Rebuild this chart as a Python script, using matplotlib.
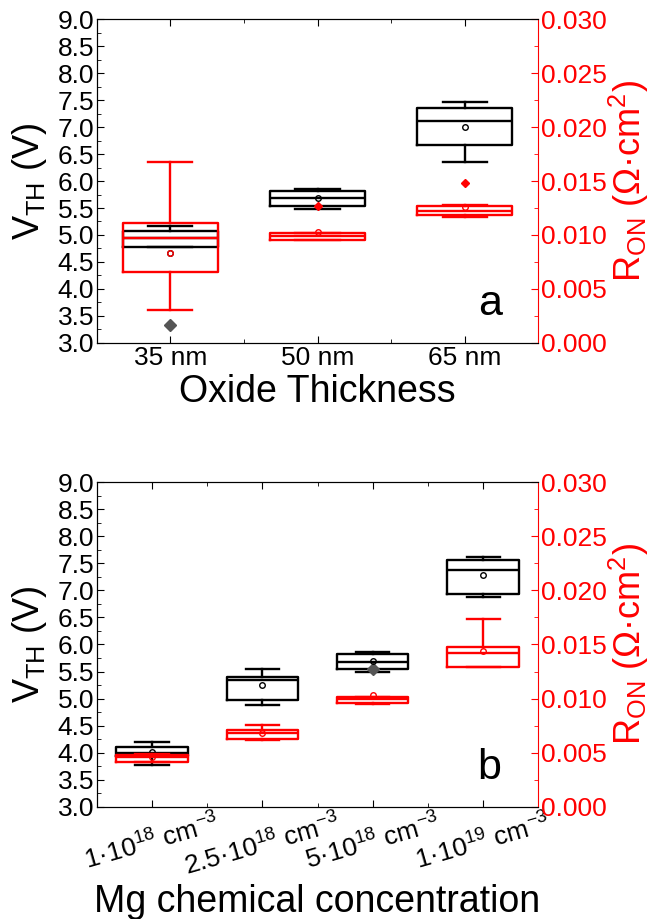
import matplotlib
matplotlib.use("Agg")
import matplotlib.pyplot as plt
from matplotlib.ticker import MultipleLocator

plt.rcParams["font.family"] = ["Liberation Sans", "DejaVu Sans"]
plt.rcParams["mathtext.default"] = "regular"

# panel a: oxide thickness
cats_a = ["35 nm", "50 nm", "65 nm"]
vth_a_whislo = [4.77, 5.49, 6.36]
vth_a_q1 = [4.77, 5.54, 6.66]
vth_a_med = [4.94, 5.69, 7.11]
vth_a_q3 = [5.07, 5.82, 7.35]
vth_a_whishi = [5.17, 5.85, 7.46]
vth_a_mean = [4.67, 5.69, 7.01]
vth_a_fliers = [[3.33], [], []]

ron_a_whislo = [0.0030, 0.0095, 0.01167]
ron_a_q1 = [0.00654, 0.00957, 0.01182]
ron_a_med = [0.0097, 0.0099, 0.01225]
ron_a_q3 = [0.01114, 0.01016, 0.01271]
ron_a_whishi = [0.01676, 0.01016, 0.0128]
ron_a_mean = [0.00836, 0.0103, 0.01256]
ron_a_fliers = [[], [0.0127], [0.0148]]

# panel b: Mg concentration
cats_b = [r"1·10$^{18}$ cm$^{-3}$", r"2.5·10$^{18}$ cm$^{-3}$",
          r"5·10$^{18}$ cm$^{-3}$", r"1·10$^{19}$ cm$^{-3}$"]
vth_b_whislo = [3.78, 4.89, 5.50, 6.885]
vth_b_q1 = [3.94, 4.97, 5.55, 6.94]
vth_b_med = [4.00, 5.34, 5.68, 7.38]
vth_b_q3 = [4.115, 5.39, 5.83, 7.56]
vth_b_whishi = [4.19, 5.55, 5.86, 7.62]
vth_b_mean = [4.02, 5.25, 5.69, 7.29]
vth_b_fliers = [[], [], [5.54], []]

ron_b_whislo = [0.0041, 0.0062, 0.0095, 0.01295]
ron_b_q1 = [0.00415, 0.0063, 0.00957, 0.01295]
ron_b_med = [0.00459, 0.0068, 0.00994, 0.01424]
ron_b_q3 = [0.0048, 0.00708, 0.01018, 0.01474]
ron_b_whishi = [0.00489, 0.0076, 0.01018, 0.01735]
ron_b_mean = [0.0046, 0.0068, 0.0103, 0.0144]
ron_b_fliers = [[], [], [], []]


def _stats(whislo, q1, med, q3, whishi, mean, fliers):
    return [
        dict(whislo=a, q1=b, med=c, q3=d, whishi=e, mean=f, fliers=g)
        for a, b, c, d, e, f, g in zip(whislo, q1, med, q3, whishi, mean, fliers)
    ]


def _draw(ax, stats, color, flier_color, flier_size):
    pos = list(range(1, len(stats) + 1))
    lp = dict(color=color, linewidth=1.7)
    ax.bxp(
        stats,
        positions=pos,
        widths=0.645,
        capwidths=0.3,
        showmeans=True,
        showfliers=True,
        boxprops=lp,
        whiskerprops=lp,
        capprops=lp,
        medianprops=lp,
        meanprops=dict(marker="o", markerfacecolor="none",
                       markeredgecolor=color, markersize=4, markeredgewidth=1),
        flierprops=dict(marker="D", markerfacecolor=flier_color,
                        markeredgecolor=flier_color, markersize=flier_size),
        manage_ticks=False,
    )


def _panel(ax, cats, vth, ron, letter, xlabel, rotate):
    ax2 = ax.twinx()
    _draw(ax, vth, "black", "#555555", 6)
    _draw(ax2, ron, "red", "red", 4)

    n = len(cats)
    ax.set_xlim(0.5, n + 0.5)
    ax.set_ylim(3.0, 9.0)
    ax2.set_ylim(0.0, 0.030)
    ax.set_xticks(range(1, n + 1))
    ax.xaxis.set_minor_locator(MultipleLocator(0.5))
    if rotate:
        ax.set_xticklabels(cats, rotation=16, ha="center", fontsize=19)
    else:
        ax.set_xticklabels(cats, fontsize=19)
    ax.yaxis.set_minor_locator(MultipleLocator(0.25))
    ax.set_yticks([3.0 + 0.5 * i for i in range(13)])
    ax.set_yticklabels([f"{3.0 + 0.5 * i:.1f}" for i in range(13)], fontsize=19)
    ax2.yaxis.set_minor_locator(MultipleLocator(0.0025))
    ax2.set_yticks([0.005 * i for i in range(7)])
    ax2.set_yticklabels([f"{0.005 * i:.3f}" for i in range(7)], fontsize=19)

    ax.tick_params(axis="both", which="both", direction="in", top=True, pad=2)
    ax.tick_params(which="major", length=5)
    ax.tick_params(which="minor", length=3)
    ax2.tick_params(axis="y", which="both", direction="in", colors="red", pad=2)
    ax2.tick_params(which="major", length=5)
    ax2.tick_params(which="minor", length=3)
    ax2.spines["right"].set_color("red")
    ax.spines["right"].set_visible(False)

    ax.set_ylabel(r"V$_{TH}$ (V)", fontsize=26, labelpad=6)
    ax2.set_ylabel(r"R$_{ON}$ (Ω·cm$^{2}$)", fontsize=26, color="red", labelpad=0)
    ax.set_xlabel(xlabel, fontsize=27, labelpad=3)
    ax.text(0.89, 0.085, letter, transform=ax.transAxes, fontsize=31,
            ha="center", va="baseline")


fig = plt.figure(figsize=(6.54, 9.19), dpi=100)
ax_a = fig.add_axes([0.148, 0.627, 0.675, 0.352])
ax_b = fig.add_axes([0.148, 0.122, 0.675, 0.3535])

_panel(
    ax_a, cats_a,
    _stats(vth_a_whislo, vth_a_q1, vth_a_med, vth_a_q3, vth_a_whishi, vth_a_mean, vth_a_fliers),
    _stats(ron_a_whislo, ron_a_q1, ron_a_med, ron_a_q3, ron_a_whishi, ron_a_mean, ron_a_fliers),
    "a", "Oxide Thickness", False,
)
_panel(
    ax_b, cats_b,
    _stats(vth_b_whislo, vth_b_q1, vth_b_med, vth_b_q3, vth_b_whishi, vth_b_mean, vth_b_fliers),
    _stats(ron_b_whislo, ron_b_q1, ron_b_med, ron_b_q3, ron_b_whishi, ron_b_mean, ron_b_fliers),
    "b", "Mg chemical concentration", True,
)

fig.savefig("out.png", dpi=100)
